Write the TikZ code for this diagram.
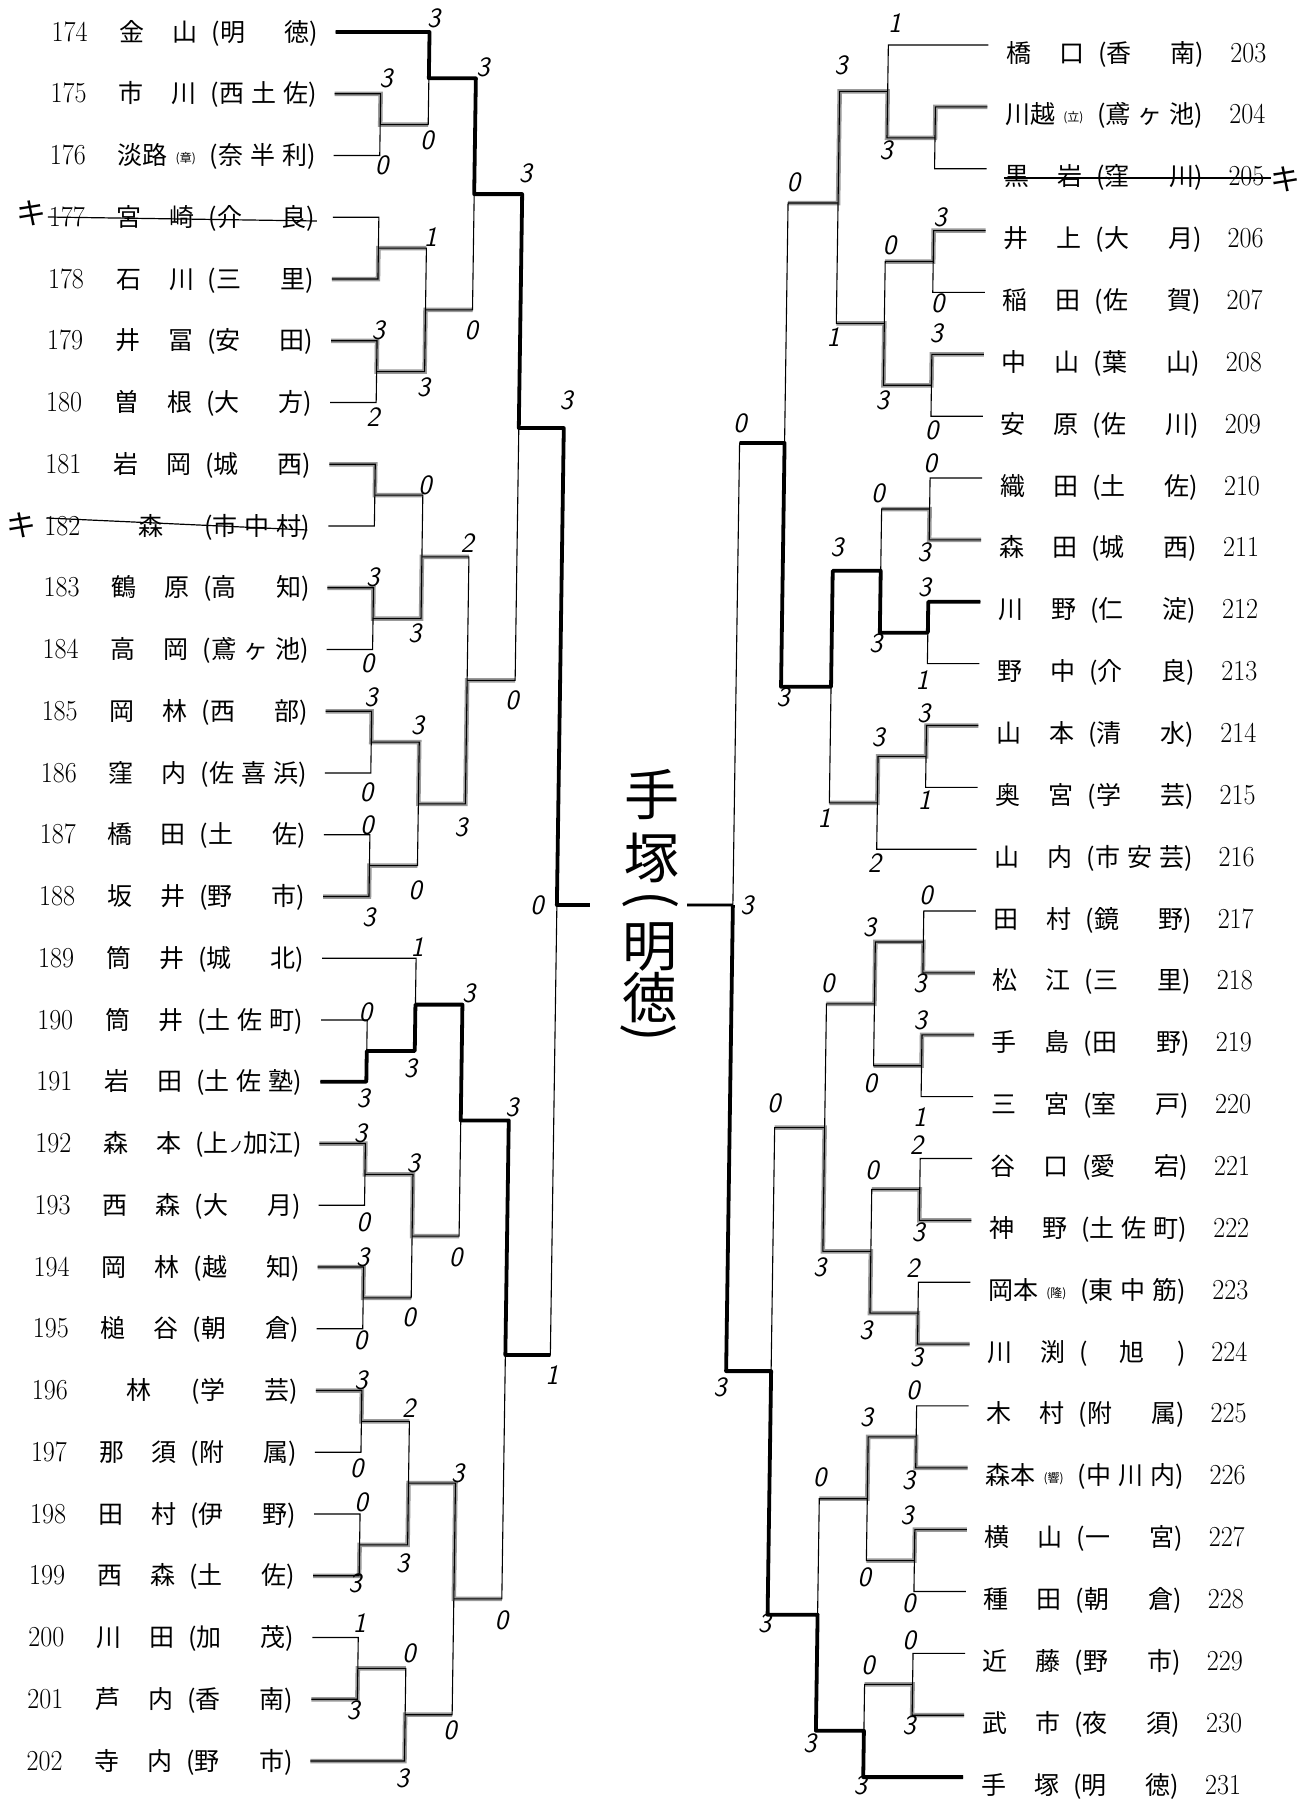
\documentclass[tikz,border=0pt]{standalone}
\usepackage{fontspec}
\usepackage{graphicx}
\newfontfamily\jp{Noto Sans CJK JP}
\newcommand\numf[1]{{\rmfamily\fontsize{29}{29}\selectfont\scalebox{0.9}[1]{#1}}}
\newcommand\nmA[2]{\makebox[78pt][s]{#1\hfill#2}}
\newcommand\nmB[1]{\makebox[78pt][c]{#1}}
\newcommand\smp[1]{\raisebox{2pt}{\fontsize{12}{12}\selectfont(#1)}}
\newcommand\nmC[3]{\makebox[78pt][s]{#1#2\hfill\smp{#3}}}
\newcommand\scA[2]{\makebox[106pt][s]{(#1\hfill#2)}}
\newcommand\scB[3]{\makebox[106pt][s]{(#1\hfill#2\hfill#3)}}
\newcommand\scC[1]{\makebox[106pt][s]{(\hfill#1\hfill)}}
\newcommand\kanaNo{{\fontsize{15}{15}\selectfont ノ}}
\newcommand\scD{\makebox[106pt][s]{(上\hfill{}\kanaNo\hfill{}加\hfill{}江)}}
\newcommand\lteam[3]{\node[team] (t#1) at (52,{32+61.75*(#1-174)+9}) {\makebox[68pt][l]{\numf{#1}}#2\hspace{14pt}#3};}
\newcommand\rteam[3]{\node[team] (t#1) at (1007,{45+61.86*(#1-203)+17}) {#2\hspace{14pt}#3\hspace{26pt}\numf{#1}};}
\newcommand\bkt[5]{\draw[br] (#1,#2) -- (#5,#2) -- (#5,#4) -- (#3,#4);}
\newcounter{scn}
\newcommand\scr[3]{\stepcounter{scn}\node[score] (sc\arabic{scn}) at (#1,#2) {#3};}
\begin{document}
\begin{tikzpicture}[x=1pt,y=-1pt,
  team/.style={anchor=base west,inner sep=0pt,font=\jp\fontsize{25}{25}\selectfont},
  br/.style={black,line width=1.1pt},
  hl/.style={black!40,line width=4.5pt},
  thk/.style={black,line width=3.8pt,line join=round},
  strike/.style={black,line width=1.2pt},
  score/.style={inner sep=0pt,font=\sffamily\itshape\fontsize{28}{28}\selectfont},
  champ/.style={inner sep=0pt,font=\jp\fontsize{55}{55}\selectfont},
  kimark/.style={inner sep=0pt,font=\jp\fontsize{30}{30}\selectfont}]
\fill[white] (0,0) rectangle (1299,1800);
\useasboundingbox (0,0) rectangle (1299,1800);
\begin{scope}[xslant=0.0145]
% ---------- highlights ----------
\draw[hl] (336,93.75) -- (382,93.75) -- (382,124.6) -- (430,124.6);
\draw[hl] (336,279) -- (382,279) -- (382,248.1) -- (430,248.1);
\draw[hl] (336,340.75) -- (382,340.75) -- (382,371.6) -- (430,371.6) -- (430,309.9) -- (477,309.9);
\draw[hl] (336,464.25) -- (382,464.25) -- (382,495.1) -- (430,495.1);
\draw[hl] (336,587.75) -- (382,587.75) -- (382,618.6) -- (430,618.6) -- (430,556.9) -- (477,556.9);
\draw[hl] (336,711.25) -- (382,711.25) -- (382,742.1) -- (430,742.1) -- (430,803.9) -- (477,803.9) -- (477,680.4) -- (525,680.4);
\draw[hl] (336,896.5) -- (382,896.5) -- (382,865.6) -- (430,865.6);
\draw[hl] (336,1143.5) -- (382,1143.5) -- (382,1174.4) -- (430,1174.4) -- (430,1236.1) -- (477,1236.1);
\draw[hl] (336,1267) -- (382,1267) -- (382,1297.9) -- (430,1297.9);
\draw[hl] (336,1390.5) -- (382,1390.5) -- (382,1421.4) -- (430,1421.4);
\draw[hl] (336,1575.75) -- (382,1575.75) -- (382,1544.9) -- (430,1544.9) -- (430,1483.1) -- (477,1483.1) -- (477,1598.9) -- (525,1598.9);
\draw[hl] (336,1699.25) -- (382,1699.25) -- (382,1668.4) -- (430,1668.4);
\draw[hl] (336,1761) -- (430,1761) -- (430,1714.7) -- (477,1714.7);
\draw[hl] (989,106.9) -- (937,106.9) -- (937,137.8) -- (889,137.8) -- (889,91.4) -- (841,91.4) -- (841,203) -- (791,203);
\draw[hl] (989,230.6) -- (937,230.6) -- (937,261.5) -- (889,261.5);
\draw[hl] (989,354.3) -- (937,354.3) -- (937,385.25) -- (889,385.25) -- (889,323.4) -- (841,323.4);
\draw[hl] (989,539.9) -- (937,539.9) -- (937,509.0) -- (889,509.0);
\draw[hl] (989,725.5) -- (937,725.5) -- (937,756.4) -- (889,756.4) -- (889,802.8) -- (841,802.8);
\draw[hl] (989,972.9) -- (937,972.9) -- (937,941.95) -- (889,941.95) -- (889,1003.8) -- (841,1003.8);
\draw[hl] (989,1034.8) -- (937,1034.8) -- (937,1065.7) -- (889,1065.7);
\draw[hl] (989,1220.3) -- (937,1220.3) -- (937,1189.4) -- (889,1189.4);
\draw[hl] (989,1344.1) -- (937,1344.1) -- (937,1313.15) -- (889,1313.15) -- (889,1251.3) -- (841,1251.3) -- (841,1127.55) -- (791,1127.55);
\draw[hl] (989,1467.8) -- (937,1467.8) -- (937,1436.85) -- (889,1436.85) -- (889,1498.7) -- (841,1498.7);
\draw[hl] (989,1529.6) -- (937,1529.6) -- (937,1560.55) -- (889,1560.55);
\draw[hl] (989,1715.2) -- (937,1715.2) -- (937,1684.3) -- (889,1684.3);
\draw[hl] (746,905) -- (700,905);
% ---------- left bracket ----------
\bkt{336}{93.75}{336}{155.5}{382}
\bkt{336}{32}{382}{124.6}{430}
\bkt{336}{217.25}{336}{279}{382}
\bkt{336}{340.75}{336}{402.5}{382}
\bkt{382}{248.1}{382}{371.6}{430}
\bkt{430}{78.3}{430}{309.9}{477}
\bkt{336}{464.25}{336}{526}{382}
\bkt{336}{587.75}{336}{649.5}{382}
\bkt{382}{495.1}{382}{618.6}{430}
\bkt{336}{711.25}{336}{773}{382}
\bkt{336}{834.75}{336}{896.5}{382}
\bkt{382}{742.1}{382}{865.6}{430}
\bkt{430}{556.9}{430}{803.9}{477}
\bkt{477}{194.1}{477}{680.4}{525}
\bkt{336}{1020}{336}{1081.75}{382}
\bkt{336}{958.25}{382}{1050.9}{430}
\bkt{336}{1143.5}{336}{1205.25}{382}
\bkt{336}{1267}{336}{1328.75}{382}
\bkt{382}{1174.4}{382}{1297.9}{430}
\bkt{430}{1004.6}{430}{1236.1}{477}
\bkt{336}{1390.5}{336}{1452.25}{382}
\bkt{336}{1514}{336}{1575.75}{382}
\bkt{382}{1421.4}{382}{1544.9}{430}
\bkt{336}{1637.5}{336}{1699.25}{382}
\bkt{382}{1668.4}{336}{1761}{430}
\bkt{430}{1483.1}{430}{1714.7}{477}
\bkt{477}{1120.4}{477}{1598.9}{525}
\bkt{525}{428}{525}{1355}{570}
\draw[br] (570,905) -- (603,905);
% ---------- right bracket ----------
\bkt{989}{106.9}{989}{168.7}{937}
\bkt{989}{45}{937}{137.8}{889}
\bkt{989}{230.6}{989}{292.4}{937}
\bkt{989}{354.3}{989}{416.2}{937}
\bkt{937}{261.5}{937}{385.25}{889}
\bkt{889}{91.4}{889}{323.4}{841}
\bkt{989}{478.0}{989}{539.9}{937}
\bkt{989}{601.7}{989}{663.6}{937}
\bkt{937}{509.0}{937}{632.65}{889}
\bkt{989}{725.5}{989}{787.3}{937}
\bkt{937}{756.4}{989}{849.2}{889}
\bkt{889}{570.8}{889}{802.8}{841}
\bkt{841}{203}{841}{686.8}{791}
\bkt{989}{911.0}{989}{972.9}{937}
\bkt{989}{1034.8}{989}{1096.6}{937}
\bkt{937}{941.95}{937}{1065.7}{889}
\bkt{989}{1158.5}{989}{1220.3}{937}
\bkt{989}{1282.2}{989}{1344.1}{937}
\bkt{937}{1189.4}{937}{1313.15}{889}
\bkt{889}{1003.8}{889}{1251.3}{841}
\bkt{989}{1405.9}{989}{1467.8}{937}
\bkt{989}{1529.6}{989}{1591.5}{937}
\bkt{937}{1436.85}{937}{1560.55}{889}
\bkt{989}{1653.4}{989}{1715.2}{937}
\bkt{937}{1684.3}{989}{1777.1}{889}
\bkt{889}{1498.7}{889}{1730.7}{841}
\bkt{841}{1127.55}{841}{1614.7}{791}
\bkt{791}{443}{791}{1371.1}{746}
\draw[br] (746,905) -- (700,905);
% ---------- thick paths ----------
\draw[thk] (336,32) -- (430,32) -- (430,78.3) -- (477,78.3) -- (477,194.1) -- (525,194.1) -- (525,428) -- (570,428) -- (570,905) -- (603,905);
\draw[thk] (336,1081.75) -- (382,1081.75) -- (382,1050.9) -- (430,1050.9) -- (430,1004.6) -- (477,1004.6) -- (477,1120.4) -- (525,1120.4) -- (525,1355) -- (570,1355);
\draw[thk] (989,601.7) -- (937,601.7) -- (937,632.65) -- (889,632.65) -- (889,570.8) -- (841,570.8) -- (841,686.8) -- (791,686.8) -- (791,443) -- (746,443);
\draw[thk] (989,1777.1) -- (889,1777.1) -- (889,1730.7) -- (841,1730.7) -- (841,1614.7) -- (791,1614.7) -- (791,1371.1) -- (746,1371.1) -- (746,905);
% ---------- left teams ----------
\lteam{174}{\nmA{金}{山}}{\scA{明}{徳}}
\lteam{175}{\nmA{市}{川}}{\scB{西}{土}{佐}}
\lteam{176}{\nmC{淡}{路}{章}}{\scB{奈}{半}{利}}
\lteam{177}{\nmA{宮}{崎}}{\scA{介}{良}}
\lteam{178}{\nmA{石}{川}}{\scA{三}{里}}
\lteam{179}{\nmA{井}{冨}}{\scA{安}{田}}
\lteam{180}{\nmA{曽}{根}}{\scA{大}{方}}
\lteam{181}{\nmA{岩}{岡}}{\scA{城}{西}}
\lteam{182}{\nmB{森}}{\scB{市}{中}{村}}
\lteam{183}{\nmA{鶴}{原}}{\scA{高}{知}}
\lteam{184}{\nmA{高}{岡}}{\scB{鳶}{ヶ}{池}}
\lteam{185}{\nmA{岡}{林}}{\scA{西}{部}}
\lteam{186}{\nmA{窪}{内}}{\scB{佐}{喜}{浜}}
\lteam{187}{\nmA{橋}{田}}{\scA{土}{佐}}
\lteam{188}{\nmA{坂}{井}}{\scA{野}{市}}
\lteam{189}{\nmA{筒}{井}}{\scA{城}{北}}
\lteam{190}{\nmA{筒}{井}}{\scB{土}{佐}{町}}
\lteam{191}{\nmA{岩}{田}}{\scB{土}{佐}{塾}}
\lteam{192}{\nmA{森}{本}}{\scD}
\lteam{193}{\nmA{西}{森}}{\scA{大}{月}}
\lteam{194}{\nmA{岡}{林}}{\scA{越}{知}}
\lteam{195}{\nmA{槌}{谷}}{\scA{朝}{倉}}
\lteam{196}{\nmB{林}}{\scA{学}{芸}}
\lteam{197}{\nmA{那}{須}}{\scA{附}{属}}
\lteam{198}{\nmA{田}{村}}{\scA{伊}{野}}
\lteam{199}{\nmA{西}{森}}{\scA{土}{佐}}
\lteam{200}{\nmA{川}{田}}{\scA{加}{茂}}
\lteam{201}{\nmA{芦}{内}}{\scA{香}{南}}
\lteam{202}{\nmA{寺}{内}}{\scA{野}{市}}
% ---------- right teams ----------
\rteam{203}{\nmA{橋}{口}}{\scA{香}{南}}
\rteam{204}{\nmC{川}{越}{立}}{\scB{鳶}{ヶ}{池}}
\rteam{205}{\nmA{黒}{岩}}{\scA{窪}{川}}
\rteam{206}{\nmA{井}{上}}{\scA{大}{月}}
\rteam{207}{\nmA{稲}{田}}{\scA{佐}{賀}}
\rteam{208}{\nmA{中}{山}}{\scA{葉}{山}}
\rteam{209}{\nmA{安}{原}}{\scA{佐}{川}}
\rteam{210}{\nmA{織}{田}}{\scA{土}{佐}}
\rteam{211}{\nmA{森}{田}}{\scA{城}{西}}
\rteam{212}{\nmA{川}{野}}{\scA{仁}{淀}}
\rteam{213}{\nmA{野}{中}}{\scA{介}{良}}
\rteam{214}{\nmA{山}{本}}{\scA{清}{水}}
\rteam{215}{\nmA{奥}{宮}}{\scA{学}{芸}}
\rteam{216}{\nmA{山}{内}}{\scB{市}{安}{芸}}
\rteam{217}{\nmA{田}{村}}{\scA{鏡}{野}}
\rteam{218}{\nmA{松}{江}}{\scA{三}{里}}
\rteam{219}{\nmA{手}{島}}{\scA{田}{野}}
\rteam{220}{\nmA{三}{宮}}{\scA{室}{戸}}
\rteam{221}{\nmA{谷}{口}}{\scA{愛}{宕}}
\rteam{222}{\nmA{神}{野}}{\scB{土}{佐}{町}}
\rteam{223}{\nmC{岡}{本}{隆}}{\scB{東}{中}{筋}}
\rteam{224}{\nmA{川}{渕}}{\scC{旭}}
\rteam{225}{\nmA{木}{村}}{\scA{附}{属}}
\rteam{226}{\nmC{森}{本}{響}}{\scB{中}{川}{内}}
\rteam{227}{\nmA{横}{山}}{\scA{一}{宮}}
\rteam{228}{\nmA{種}{田}}{\scA{朝}{倉}}
\rteam{229}{\nmA{近}{藤}}{\scA{野}{市}}
\rteam{230}{\nmA{武}{市}}{\scA{夜}{須}}
\rteam{231}{\nmA{手}{塚}}{\scA{明}{徳}}
% ---------- forfeits ----------
\draw[strike] (51,217) -- (320,221);
\draw[strike] (54,518) -- (315,530);
\draw[strike] (1007,178) -- (1274,178);
\node[kimark] (k177) at (35,213) {キ};
\node[kimark] (k182) at (29,525) {キ};
\node[kimark] (k205) at (1288,179) {キ};
% ---------- champion ----------
\node[champ] (w1) at (664,795) {手};
\node[champ] (w2) at (664,858) {塚};
\node[champ,rotate=-90] (w3) at (664,900) {(};
\node[champ] (w4) at (664,947) {明};
\node[champ] (w5) at (664,998) {徳};
\node[champ,rotate=-90] (w6) at (664,1033) {)};
% ---------- scores left ----------
\scr{434}{18}{3}\scr{387}{78}{3}\scr{384}{165}{0}\scr{429}{140}{0}
\scr{484}{67}{3}\scr{434}{237}{1}\scr{476}{330}{0}\scr{383}{330}{3}
\scr{379}{417}{2}\scr{429}{387}{3}\scr{528}{173}{3}\scr{572}{400}{3}
\scr{432}{485}{0}\scr{381}{577}{3}\scr{377}{663}{0}\scr{424}{633}{3}
\scr{475}{543}{2}\scr{381}{697}{3}\scr{378}{792}{0}\scr{428}{725}{3}
\scr{379}{825}{0}\scr{382}{917}{3}\scr{428}{890}{0}\scr{473}{827}{3}
\scr{522}{700}{0}\scr{550}{905}{0}
\scr{431}{947}{1}\scr{380}{1012}{0}\scr{379}{1098}{3}\scr{426}{1068}{3}
\scr{483}{993}{3}\scr{474}{1257}{0}\scr{528}{1107}{3}\scr{377}{1133}{3}
\scr{381}{1222}{0}\scr{430}{1163}{3}\scr{381}{1257}{3}\scr{380}{1340}{0}
\scr{428}{1317}{0}\scr{572}{1375}{1}\scr{381}{1380}{3}\scr{378}{1468}{0}
\scr{429}{1408}{2}\scr{383}{1502}{0}\scr{378}{1583}{3}\scr{425}{1563}{3}
\scr{479}{1473}{3}\scr{383}{1623}{1}\scr{378}{1710}{3}\scr{433}{1653}{0}
\scr{428}{1778}{3}\scr{475}{1730}{0}\scr{525}{1620}{0}
% ---------- scores right ----------
\scr{895}{23}{1}\scr{888}{150}{3}\scr{842}{65}{3}\scr{893}{245}{0}
\scr{943}{217}{3}\scr{942}{303}{0}\scr{941}{333}{3}\scr{938}{430}{0}
\scr{888}{400}{3}\scr{838}{337}{1}\scr{796}{182}{0}\scr{746}{423}{0}
\scr{937}{463}{0}\scr{932}{552}{3}\scr{885}{493}{0}\scr{933}{587}{3}
\scr{932}{680}{1}\scr{885}{643}{3}\scr{845}{547}{3}\scr{934}{713}{3}
\scr{936}{800}{1}\scr{889}{737}{3}\scr{887}{863}{2}\scr{836}{818}{1}
\scr{793}{697}{3}\scr{760}{905}{3}
\scr{939}{895}{0}\scr{934}{983}{3}\scr{883}{927}{3}\scr{842}{983}{0}
\scr{935}{1020}{3}\scr{936}{1117}{1}\scr{886}{1083}{0}\scr{790}{1103}{0}
\scr{933}{1145}{2}\scr{936}{1232}{3}\scr{889}{1170}{0}\scr{931}{1268}{2}
\scr{936}{1357}{3}\scr{885}{1330}{3}\scr{838}{1267}{3}\scr{740}{1387}{3}
\scr{933}{1390}{0}\scr{930}{1480}{3}\scr{887}{1417}{3}\scr{841}{1477}{0}
\scr{929}{1515}{3}\scr{932}{1603}{0}\scr{887}{1577}{0}\scr{788}{1623}{3}
\scr{933}{1640}{0}\scr{934}{1725}{3}\scr{892}{1665}{0}\scr{835}{1743}{3}
\scr{886}{1785}{3}
\end{scope}
\end{tikzpicture}
\end{document}
